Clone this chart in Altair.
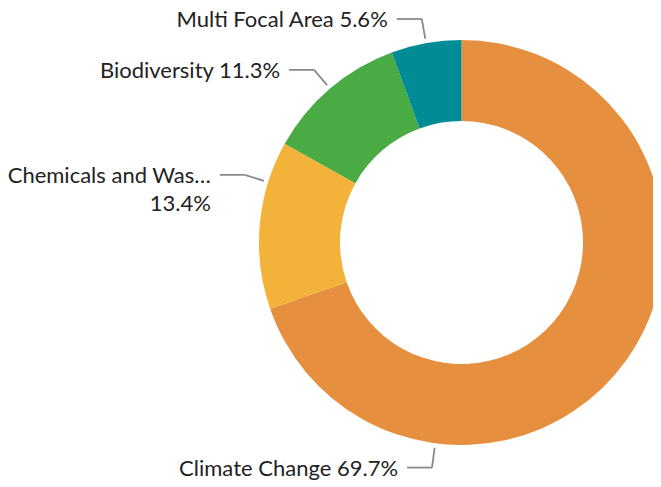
import altair as alt
import pandas as pd

# ---- data ----
categories = ["Climate Change", "Chemicals and Waste", "Biodiversity", "Multi Focal Area"]
shares = [69.7, 13.4, 11.3, 5.6]
colors = ["#E6903F", "#F3B33A", "#4AAB45", "#008B95"]

# ---- layout (not data) ----
label_shift_deg = {"Chemicals and Waste": 12.3, "Climate Change": 62.0}
CX, CY = 453.5, 234.5
R_IN, R_OUT = 121.5, 202.5
FONT = "Lato"


def make_label(name, pct):
    txt = f"{pct:.1f}%"
    if len(name) > 17:
        return [name[:17] + "…", txt]
    return f"{name} {txt}"


df = pd.DataFrame({
    "category": categories,
    "share": shares,
    "order": list(range(len(categories))),
    "label": [make_label(c, s) for c, s in zip(categories, shares)],
    "shift": [label_shift_deg.get(c, 0.0) for c in categories],
})

base = alt.Chart(df)

arcs = base.mark_arc(innerRadius=R_IN, outerRadius=R_OUT).encode(
    theta=alt.Theta("share:Q", stack=True),
    order=alt.Order("order:Q"),
    color=alt.Color("category:N", scale=alt.Scale(domain=categories, range=colors), legend=None),
    x=alt.value(CX),
    y=alt.value(CY),
)

geo = base.transform_joinaggregate(total="sum(share)").transform_window(
    cum="sum(share)", sort=[alt.SortField("order")], frame=[None, 0]
).transform_calculate(
    mid="((datum.cum - datum.share) + datum.share / 2) / datum.total * 360 + datum.shift"
).transform_calculate(
    a="datum.mid * PI / 180"
).transform_calculate(
    x0=f"{CX} + 207 * sin(datum.a)",
    y0=f"{CY} - 207 * cos(datum.a)",
    x1=f"{CX} + 227 * sin(datum.a)",
    y1=f"{CY} - 227 * cos(datum.a)",
).transform_calculate(
    x2="datum.x1 - 25",
    xt="datum.x1 - 34",
)

line_color = "#8A8A8A"
seg1 = geo.mark_rule(color=line_color, strokeWidth=1.8).encode(
    x=alt.X("x0:Q", scale=None, axis=None),
    y=alt.Y("y0:Q", scale=None, axis=None),
    x2="x1:Q",
    y2="y1:Q",
)
seg2 = geo.mark_rule(color=line_color, strokeWidth=1.8).encode(
    x=alt.X("x1:Q", scale=None, axis=None),
    y=alt.Y("y1:Q", scale=None, axis=None),
    x2="x2:Q",
    y2="y1:Q",
)
labels = geo.mark_text(
    align="right", baseline="middle", font=FONT, fontSize=22, color="#222222",
    lineHeight=28, dy=1
).encode(
    x=alt.X("xt:Q", scale=None, axis=None),
    y=alt.Y("y1:Q", scale=None, axis=None),
    text="label",
)

chart = alt.layer(arcs, seg1, seg2, labels).properties(
    width=645, height=478, autosize=alt.AutoSizeParams(type="none"), padding=0
).configure_view(stroke=None)

chart.save("out.html", embed_options={"renderer": "svg", "actions": False})
